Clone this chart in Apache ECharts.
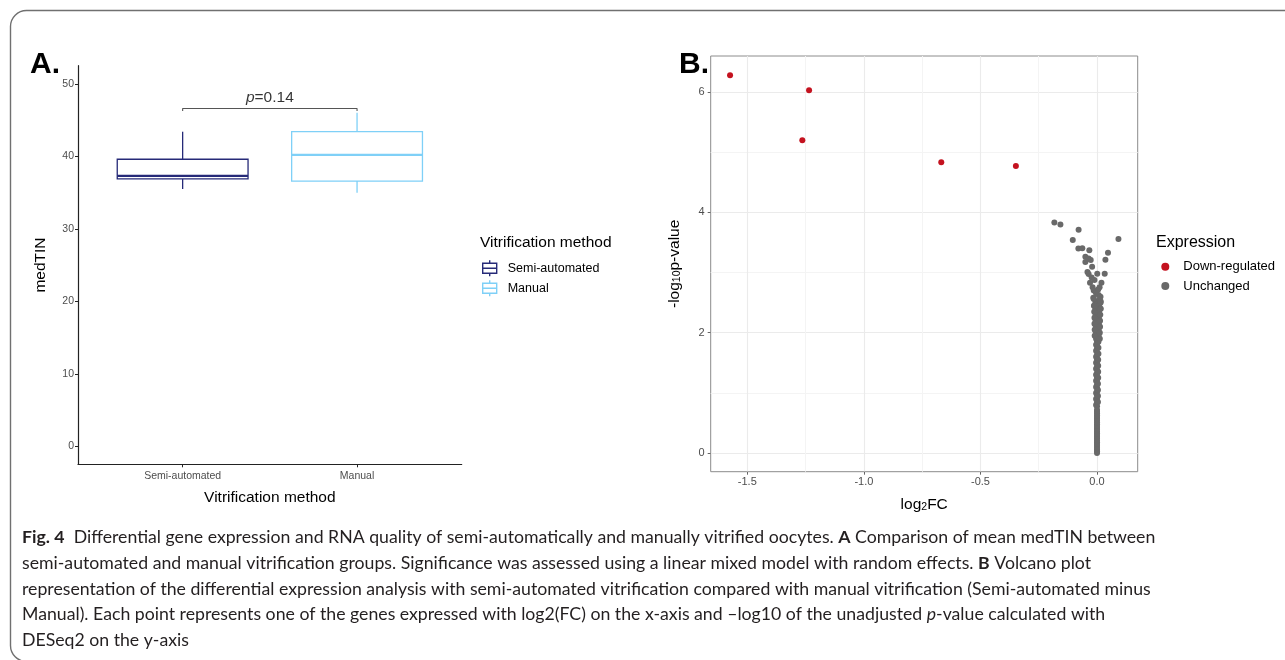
<!DOCTYPE html>
<html><head><meta charset="utf-8">
<script src="https://cdn.jsdelivr.net/npm/echarts@6/dist/echarts.min.js"></script>
<style>html,body{margin:0;padding:0;background:#fff}#c{width:1285px;height:660px}</style>
</head><body><div id="c"></div>
<script>
// ---------- Panel A data ----------
const boxCategories = ['Semi-automated', 'Manual'];
// [position, lower whisker, Q1, median, Q3, upper whisker]
const semiStats = [1, 35.5, 36.9, 37.3, 39.6, 43.4];
const manualStats = [2, 35.0, 36.6, 40.2, 43.4, 46.0];
const medTinTicks = [0, 10, 20, 30, 40, 50];
const bracket = [[1, 46.25], [1, 46.6], [2, 46.6], [2, 46.25]];
const pLabelPos = [[1.5, 48.1]];

// ---------- Panel B data ----------
const downRegulated = [[-1.574, 6.28], [-1.235, 6.03], [-1.264, 5.20], [-0.668, 4.835], [-0.348, 4.77]];
const unchanged = [
  [-0.183, 3.833], [-0.157, 3.80], [-0.079, 3.712], [0.092, 3.557], [-0.104, 3.54],
  [-0.080, 3.40], [-0.063, 3.405], [-0.033, 3.369], [0.047, 3.33], [-0.050, 3.264],
  [-0.036, 3.236], [-0.027, 3.208], [-0.050, 3.175], [-0.021, 3.098], [0.036, 3.214],
  [0.033, 2.98], [-0.041, 3.01], [-0.036, 2.976], [0.001, 2.98], [-0.023, 2.92],
  [-0.011, 2.876], [0.019, 2.832], [-0.030, 2.832], [-0.019, 2.755], [0.011, 2.755],
  [-0.004, 2.656], [0.007, 2.628], [-0.014, 2.70], [0.015, 2.60], [-0.016, 2.58], [0.005, 2.72],
  [0.000, 0.00], [0.000, 0.06], [0.000, 0.12], [0.000, 0.18], [0.000, 0.24], [0.000, 0.30],
  [0.000, 0.36], [0.000, 0.42], [0.000, 0.48], [0.000, 0.54], [0.000, 0.60], [0.000, 0.66],
  [0.000, 0.72], [0.000, 0.78], [0.000, 0.84], [0.000, 0.90], [0.000, 0.96], [0.000, 1.02],
  [0.000, 1.08], [0.000, 1.14], [0.000, 1.20], [0.000, 1.26], [0.000, 1.32], [0.000, 1.38],
  [0.000, 1.44], [0.000, 1.50], [0.000, 1.56], [0.000, 1.62], [0.000, 1.68], [0.000, 1.74],
  [0.000, 1.80], [0.000, 1.86], [0.000, 1.92], [0.000, 1.98], [0.000, 2.04], [0.000, 2.10],
  [0.000, 2.16], [0.000, 2.22], [0.000, 2.28], [0.000, 2.34], [0.000, 2.40], [0.000, 2.46], [0.000, 2.52],
  [0.000, 0.03], [0.000, 0.09], [0.000, 0.15], [0.000, 0.21], [0.000, 0.27], [0.000, 0.33],
  [0.000, 0.39], [0.000, 0.45], [0.000, 0.51], [0.000, 0.57], [0.000, 0.63], [0.000, 0.69],
  [-0.004, 0.80], [-0.004, 0.90], [-0.004, 1.00], [-0.004, 1.10], [-0.004, 1.20], [-0.004, 1.30],
  [-0.004, 1.40], [-0.004, 1.50], [-0.004, 1.60], [-0.004, 1.70], [-0.004, 1.80], [-0.004, 1.90],
  [-0.005, 2.00], [-0.005, 2.10], [-0.006, 2.20], [-0.006, 2.30], [-0.007, 2.40], [-0.007, 2.50],
  [0.004, 0.85], [0.004, 0.95], [0.004, 1.05], [0.004, 1.15], [0.005, 1.25], [0.005, 1.35],
  [0.005, 1.45], [0.005, 1.55], [0.006, 1.65], [0.006, 1.75], [0.006, 1.85], [0.007, 1.95],
  [0.007, 2.05], [0.008, 2.15], [0.008, 2.25], [0.009, 2.35], [0.009, 2.45], [0.010, 2.55],
  [-0.010, 1.95], [-0.010, 2.05], [-0.011, 2.15], [-0.011, 2.25], [-0.012, 2.35], [-0.012, 2.45],
  [0.012, 1.90], [0.012, 2.00], [0.013, 2.10], [0.013, 2.20], [0.014, 2.30], [0.014, 2.40], [0.015, 2.50],
  [-0.014, 2.56], [0.016, 2.52], [-0.013, 2.45], [0.016, 2.40]
];
const fcTicks = [-1.5, -1.0, -0.5, 0.0];
const fcMinorTicks = [-1.25, -0.75, -0.25];
const pTicks = [0, 2, 4, 6];
const pMinorTicks = [1, 3, 5];

// ---------- Caption ----------
const captionLines = [
  '{b|Fig. 4}  Differential gene expression and RNA quality of semi-automatically and manually vitrified oocytes. {b|A} Comparison of mean medTIN between',
  'semi-automated and manual vitrification groups. Significance was assessed using a linear mixed model with random effects. {b|B} Volcano plot',
  'representation of the differential expression analysis with semi-automated vitrification compared with manual vitrification (Semi-automated minus',
  'Manual). Each point represents one of the genes expressed with log2(FC) on the x-axis and \u2013log10 of the unadjusted {i|p}-value calculated with',
  'DESeq2 on the y-axis'
];

const FONT = 'Liberation Sans';
const CAP_FONT = 'Lato';
const CAP_SIZE = 17.7;
const semiColor = '#262a78';
const manualColor = '#7fd0f7';
const boxIcon = 'path://M7,0L7,3M0,3L14,3L14,13L0,13ZM0,8L14,8M7,13L7,16';

function boxRenderer(color) {
  return function (params, api) {
    const x = api.value(0);
    const halfW = api.size([0.75, 0])[0] / 2;
    const pLo = api.coord([x, api.value(1)]);
    const pQ1 = api.coord([x, api.value(2)]);
    const pMed = api.coord([x, api.value(3)]);
    const pQ3 = api.coord([x, api.value(4)]);
    const pHi = api.coord([x, api.value(5)]);
    const st = { stroke: color, fill: '#fff', lineWidth: 1.3 };
    return {
      type: 'group',
      children: [
        { type: 'line', shape: { x1: pLo[0], y1: pLo[1], x2: pQ1[0], y2: pQ1[1] }, style: st },
        { type: 'line', shape: { x1: pQ3[0], y1: pQ3[1], x2: pHi[0], y2: pHi[1] }, style: st },
        { type: 'rect', shape: { x: pQ3[0] - halfW, y: pQ3[1], width: 2 * halfW, height: pQ1[1] - pQ3[1] }, style: st },
        { type: 'line', shape: { x1: pMed[0] - halfW, y1: pMed[1], x2: pMed[0] + halfW, y2: pMed[1] }, style: { stroke: color, lineWidth: 2.2 } }
      ]
    };
  };
}

const subRich = { s: { fontSize: 10.5, fontFamily: FONT, color: '#000', verticalAlign: 'bottom' } };

const captionGraphics = captionLines.map((t, i) => ({
  type: 'text',
  x: 22,
  y: [537, 563, 589, 614.5, 640][i],
  silent: true,
  style: {
    text: t,
    fill: '#231f20',
    font: CAP_SIZE + 'px ' + CAP_FONT,
    verticalAlign: 'middle',
    rich: {
      b: { fontFamily: CAP_FONT, fontSize: CAP_SIZE, fontWeight: 'bold', fill: '#231f20' },
      i: { fontFamily: CAP_FONT, fontSize: CAP_SIZE, fontStyle: 'italic', fill: '#231f20' }
    }
  }
}));

const chart = echarts.init(document.getElementById('c'), null, { renderer: 'canvas' });
chart.setOption({
  animation: false,
  backgroundColor: '#fff',
  textStyle: { fontFamily: FONT },
  grid: [
    { left: 78, top: 65.7, width: 383.7, height: 398.6, outerBoundsMode: 'none' },
    { left: 710.7, top: 56, width: 427, height: 415.7, show: true, borderColor: '#8c8c8c', borderWidth: 1, backgroundColor: 'transparent', outerBoundsMode: 'none' }
  ],
  xAxis: [
    {
      gridIndex: 0, type: 'value', min: 0.4, max: 2.6,
      axisLine: { show: true, onZero: false, lineStyle: { color: '#222', width: 1.2 } },
      axisTick: { show: true, customValues: [1, 2], length: 3, lineStyle: { color: '#222' } },
      axisLabel: { customValues: [1, 2], formatter: v => boxCategories[Math.round(v) - 1], fontSize: 10.5, color: '#4d4d4d', margin: 6 },
      splitLine: { show: false },
      name: 'Vitrification method', nameLocation: 'middle', nameGap: 25,
      nameTextStyle: { fontSize: 15.5, color: '#000' }
    },
    {
      gridIndex: 1, type: 'value', min: -1.657, max: 0.1745,
      axisLine: { show: false, onZero: false },
      axisTick: { show: true, customValues: fcTicks, length: 3, lineStyle: { color: '#666' } },
      axisLabel: { customValues: fcTicks, formatter: v => v.toFixed(1), fontSize: 11, color: '#4d4d4d', margin: 5 },
      splitLine: { show: true, lineStyle: { color: '#ebebeb', width: 1.1 } },
      name: 'log{s|2}FC', nameLocation: 'middle', nameGap: 25,
      nameTextStyle: { fontSize: 15.5, color: '#000', rich: subRich }
    },
    {
      gridIndex: 1, type: 'value', min: -1.657, max: 0.1745,
      axisLine: { show: false, onZero: false },
      axisTick: { show: false, customValues: fcMinorTicks },
      axisLabel: { show: false, customValues: fcMinorTicks },
      splitLine: { show: true, lineStyle: { color: '#f4f4f4', width: 1 } }
    }
  ],
  yAxis: [
    {
      gridIndex: 0, type: 'value', min: -2.45, max: 52.5,
      axisLine: { show: true, onZero: false, lineStyle: { color: '#222', width: 1.2 } },
      axisTick: { show: true, customValues: medTinTicks, length: 3, lineStyle: { color: '#222' } },
      axisLabel: { customValues: medTinTicks, fontSize: 10.5, color: '#4d4d4d', margin: 4 },
      splitLine: { show: false },
      name: 'medTIN', nameLocation: 'middle', nameGap: 29,
      nameTextStyle: { fontSize: 15.5, color: '#000' }
    },
    {
      gridIndex: 1, type: 'value', min: -0.31, max: 6.6,
      axisLine: { show: false, onZero: false },
      axisTick: { show: true, customValues: pTicks, length: 3, lineStyle: { color: '#666' } },
      axisLabel: { customValues: pTicks, fontSize: 11, color: '#4d4d4d', margin: 6 },
      splitLine: { show: true, lineStyle: { color: '#ebebeb', width: 1.1 } },
      name: '-log{s|10}p-value', nameLocation: 'middle', nameGap: 28,
      nameTextStyle: { fontSize: 15.5, color: '#000', rich: subRich }
    },
    {
      gridIndex: 1, type: 'value', min: -0.31, max: 6.6,
      axisLine: { show: false, onZero: false },
      axisTick: { show: false, customValues: pMinorTicks },
      axisLabel: { show: false, customValues: pMinorTicks },
      splitLine: { show: true, lineStyle: { color: '#f4f4f4', width: 1 } }
    }
  ],
  legend: [
    {
      left: 482, top: 259.5, orient: 'vertical', padding: 0, itemWidth: 14, itemHeight: 16, itemGap: 2.7,
      selectedMode: false, textStyle: { fontSize: 12.5, color: '#000', padding: [0, 0, 0, 6] },
      data: [
        { name: 'Semi-automated', icon: boxIcon, itemStyle: { color: '#fff', borderColor: semiColor, borderWidth: 1.4 } },
        { name: 'Manual', icon: boxIcon, itemStyle: { color: '#fff', borderColor: manualColor, borderWidth: 1.4 } }
      ]
    },
    {
      left: 1161.3, top: 260.2, orient: 'vertical', padding: 0, itemWidth: 8, itemHeight: 8, itemGap: 6.3,
      selectedMode: false, textStyle: { fontSize: 13, color: '#000', padding: [0, 0, 0, 9] },
      data: [{ name: 'Down-regulated', icon: 'circle' }, { name: 'Unchanged', icon: 'circle' }]
    }
  ],
  graphic: [
    { type: 'rect', silent: true, z: -10, shape: { x: 10.5, y: 10.5, width: 1310, height: 651, r: 16 }, style: { fill: 'none', stroke: '#707070', lineWidth: 1.4 } },
    { type: 'text', x: 30, y: 50, silent: true, style: { text: 'A.', font: 'bold 30px ' + FONT, fill: '#000', verticalAlign: 'alphabetic' } },
    { type: 'text', x: 679, y: 49.5, silent: true, style: { text: 'B.', font: 'bold 30px ' + FONT, fill: '#000', verticalAlign: 'alphabetic' } },
    { type: 'text', x: 480, y: 243, silent: true, style: { text: 'Vitrification method', font: '15.5px ' + FONT, fill: '#000', verticalAlign: 'middle' } },
    { type: 'text', x: 1156, y: 242.3, silent: true, style: { text: 'Expression', font: '16px ' + FONT, fill: '#000', verticalAlign: 'middle' } }
  ].concat(captionGraphics),
  series: [
    {
      name: 'Semi-automated', type: 'custom', xAxisIndex: 0, yAxisIndex: 0, silent: true,
      renderItem: boxRenderer(semiColor), encode: { x: 0, y: [1, 2, 3, 4, 5] },
      itemStyle: { color: '#fff', borderColor: semiColor }, data: [semiStats]
    },
    {
      name: 'Manual', type: 'custom', xAxisIndex: 0, yAxisIndex: 0, silent: true,
      renderItem: boxRenderer(manualColor), encode: { x: 0, y: [1, 2, 3, 4, 5] },
      itemStyle: { color: '#fff', borderColor: manualColor }, data: [manualStats]
    },
    {
      name: 'bracket', type: 'line', xAxisIndex: 0, yAxisIndex: 0, silent: true,
      symbol: 'none', lineStyle: { color: '#555', width: 1.1 }, data: bracket
    },
    {
      name: 'pvalue', type: 'scatter', xAxisIndex: 0, yAxisIndex: 0, silent: true,
      symbolSize: 0.1, itemStyle: { color: 'transparent' }, data: pLabelPos,
      label: {
        show: true, position: 'inside', formatter: '{i|p}=0.14', fontSize: 15.5, color: '#000',
        rich: { i: { fontStyle: 'italic', fontSize: 15.5, fontFamily: FONT, color: '#000' } }
      }
    },
    {
      name: 'Unchanged', type: 'scatter', xAxisIndex: 1, yAxisIndex: 1, silent: true,
      symbolSize: 6, itemStyle: { color: '#696969', opacity: 1 }, data: unchanged
    },
    {
      name: 'Down-regulated', type: 'scatter', xAxisIndex: 1, yAxisIndex: 1, silent: true,
      symbolSize: 6, itemStyle: { color: '#c4121f', opacity: 1 }, data: downRegulated
    }
  ]
});
</script>
</body></html>
